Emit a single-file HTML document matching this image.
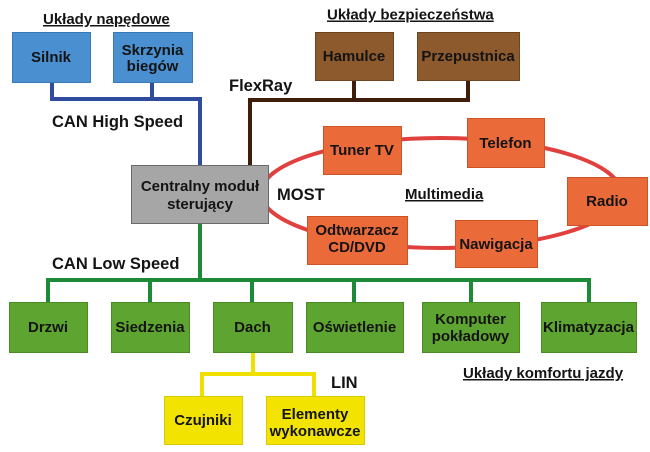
<!DOCTYPE html>
<html><head><meta charset="utf-8"><style>
html,body{margin:0;padding:0;background:#fff;}
svg{display:block;}
text{font-family:"Liberation Sans",Arial,sans-serif;font-weight:bold;fill:#141414;}
.b{font-size:15px;text-anchor:middle;}
.l{font-size:16.5px;}
.u{font-size:15px;text-decoration:underline;}
</style></head><body>
<svg width="650" height="452" viewBox="0 0 650 452" xmlns="http://www.w3.org/2000/svg">
<rect width="650" height="452" fill="#fff"/>
<!-- MOST ring -->
<ellipse cx="441" cy="193" rx="180" ry="55" fill="none" stroke="#e0403e" stroke-width="4"/>
<!-- Blue CAN High Speed -->
<g stroke="#2f4c9f" stroke-width="4" fill="none" stroke-linecap="square">
<polyline points="52,82 52,99 200,99 200,165"/>
<line x1="152" y1="82" x2="152" y2="99"/>
</g>
<!-- Brown FlexRay -->
<g stroke="#3f1d0b" stroke-width="4" fill="none" stroke-linecap="square">
<polyline points="250,165 250,100 468,100 468,80"/>
<line x1="354" y1="80" x2="354" y2="100"/>
</g>
<!-- Green CAN Low Speed -->
<g stroke="#1d8a38" stroke-width="4" fill="none" stroke-linecap="square">
<line x1="200" y1="223" x2="200" y2="280"/>
<line x1="48" y1="280" x2="589" y2="280"/>
<line x1="48" y1="280" x2="48" y2="302"/>
<line x1="150" y1="280" x2="150" y2="302"/>
<line x1="252" y1="280" x2="252" y2="302"/>
<line x1="354" y1="280" x2="354" y2="302"/>
<line x1="471" y1="280" x2="471" y2="302"/>
<line x1="589" y1="280" x2="589" y2="302"/>
</g>
<!-- Yellow LIN -->
<g stroke="#f0e000" stroke-width="4" fill="none" stroke-linecap="square">
<line x1="253" y1="352" x2="253" y2="374"/>
<line x1="202" y1="374" x2="314" y2="374"/>
<line x1="202" y1="374" x2="202" y2="396"/>
<line x1="314" y1="374" x2="314" y2="396"/>
</g>

<!-- Blue boxes -->
<g fill="#4a8fd0" stroke="#3b78b6" stroke-width="1">
<rect x="12.5" y="32.5" width="78" height="50"/>
<rect x="113.5" y="32.5" width="79" height="50"/>
</g>
<!-- Brown boxes -->
<g fill="#8c5a2c" stroke="#6e4420" stroke-width="1">
<rect x="315.5" y="32.5" width="78" height="48"/>
<rect x="417.5" y="32.5" width="102" height="48"/>
</g>
<!-- Central -->
<rect x="131.5" y="165.5" width="137" height="58" fill="#a6a6a6" stroke="#6a6a6a" stroke-width="1"/>
<!-- Orange boxes -->
<g fill="#eb6a3a" stroke="#cc5426" stroke-width="1">
<rect x="323.5" y="126.5" width="78" height="48"/>
<rect x="467.5" y="118.5" width="77" height="49"/>
<rect x="567.5" y="177.5" width="80" height="48"/>
<rect x="307.5" y="216.5" width="100" height="48"/>
<rect x="455.5" y="220.5" width="82" height="47"/>
</g>
<!-- Green boxes -->
<g fill="#5ea430" stroke="#4a8a22" stroke-width="1">
<rect x="9.5" y="302.5" width="78" height="50"/>
<rect x="111.5" y="302.5" width="78" height="50"/>
<rect x="213.5" y="302.5" width="79" height="50"/>
<rect x="306.5" y="302.5" width="97" height="50"/>
<rect x="422.5" y="302.5" width="97" height="50"/>
<rect x="541.5" y="302.5" width="95" height="50"/>
</g>
<!-- Yellow boxes -->
<g fill="#f2e400" stroke="#d8cc00" stroke-width="1">
<rect x="164.5" y="396.5" width="78" height="48"/>
<rect x="266.5" y="396.5" width="98" height="48"/>
</g>

<!-- Box labels -->
<text class="b" x="51" y="62">Silnik</text>
<text class="b" x="152.5" y="55">Skrzynia</text>
<text class="b" x="152.5" y="71">biegów</text>
<text class="b" x="354" y="61">Hamulce</text>
<text class="b" x="468" y="61">Przepustnica</text>
<text class="b" x="200" y="191">Centralny moduł</text>
<text class="b" x="200" y="209">sterujący</text>
<text class="b" x="362" y="155">Tuner TV</text>
<text class="b" x="505.5" y="148">Telefon</text>
<text class="b" x="607" y="206">Radio</text>
<text class="b" x="357" y="235">Odtwarzacz</text>
<text class="b" x="357" y="252">CD/DVD</text>
<text class="b" x="496" y="249">Nawigacja</text>
<text class="b" x="48" y="332">Drzwi</text>
<text class="b" x="150" y="332">Siedzenia</text>
<text class="b" x="252.5" y="332">Dach</text>
<text class="b" x="354.5" y="332">Oświetlenie</text>
<text class="b" x="470.5" y="324">Komputer</text>
<text class="b" x="470.5" y="341">pokładowy</text>
<text class="b" x="588.5" y="332">Klimatyzacja</text>
<text class="b" x="203" y="425">Czujniki</text>
<text class="b" x="315" y="419">Elementy</text>
<text class="b" x="315" y="436">wykonawcze</text>

<!-- Free labels -->
<text class="u" x="43" y="24">Układy napędowe</text>
<text class="u" x="327" y="19.5">Układy bezpieczeństwa</text>
<text class="l" x="52" y="127">CAN High Speed</text>
<text class="l" x="229" y="91">FlexRay</text>
<text class="l" x="277" y="200">MOST</text>
<text class="u" x="405" y="199">Multimedia</text>
<text class="l" x="52" y="269">CAN Low Speed</text>
<text class="u" x="463" y="378">Układy komfortu jazdy</text>
<text class="l" x="331" y="388">LIN</text>
</svg>
</body></html>
